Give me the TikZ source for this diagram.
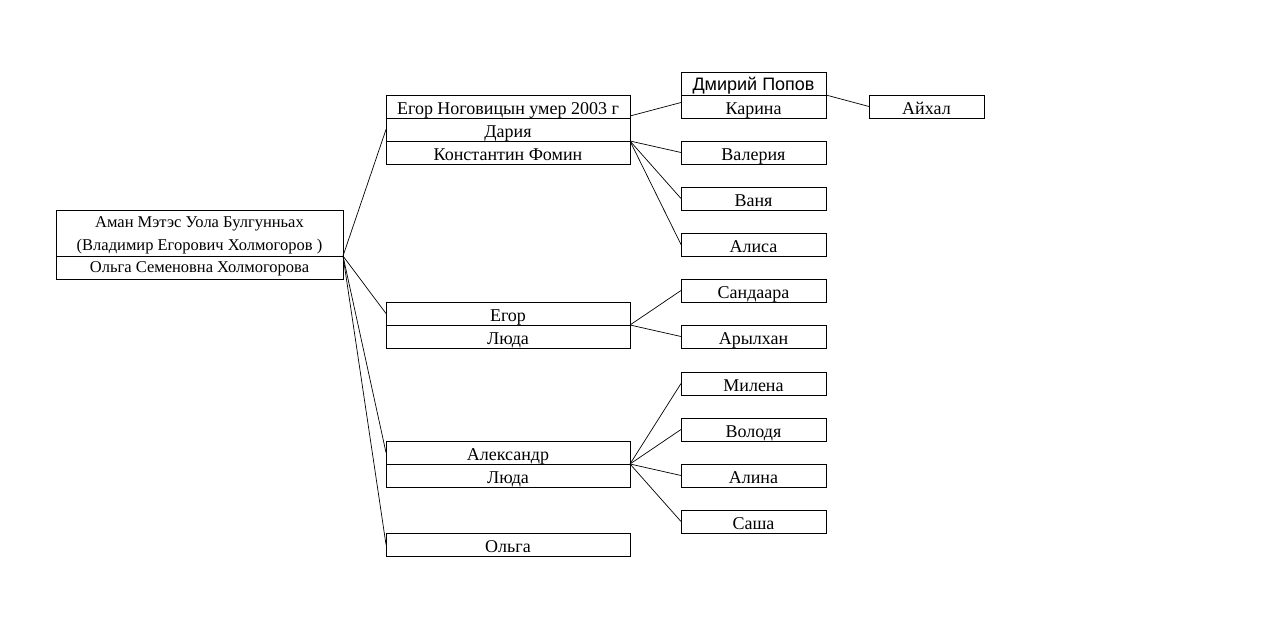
\documentclass[tikz,border=0pt]{standalone}
\usepackage{fontspec}
\setmainfont{Liberation Serif}
\newfontfamily\sansfnt{Liberation Sans}
\usepackage{tikz}
\usetikzlibrary{positioning}

\begin{document}
\begin{tikzpicture}[x=1pt,y=-1pt,
    box/.style={draw, line width=0.8pt, inner sep=0pt, outer sep=0pt, minimum height=23pt,
                text height=18pt, text depth=3pt, font=\fontsize{18}{20}\selectfont},
    wide/.style={box, minimum width=244pt},
    kid/.style={box, minimum width=145pt},
    link/.style={line width=0.7pt}]
    \useasboundingbox (0,0) rectangle (1261,621);

    %ROOT
    \node[draw, line width=0.8pt, inner sep=0pt, outer sep=0pt, minimum width=287pt, minimum height=46pt,
          text height=38pt, text depth=4pt, align=center, font=\fontsize{16.5}{23}\selectfont, anchor=north west]
          (root) at (56,210) {Аман Мэтэс Уола Булгунньах\\(Владимир Егорович Холмогоров )};
    \node[box, minimum width=287pt, text height=13pt, text depth=4pt, font=\fontsize{16.5}{18}\selectfont,
          below=0pt of root] (olgaS) {Ольга Семеновна Холмогорова};
    \coordinate (rj) at (root.south east);

    %CHILDREN
    \node[wide, anchor=north west] (egorN) at (386,95) {Егор Ноговицын умер 2003 г};
    \node[wide, below=0pt of egorN] (daria) {Дария};
    \node[wide, below=0pt of daria] (konst) {Константин Фомин};

    \node[wide, anchor=north west] (egor) at (386,302) {Егор};
    \node[wide, below=0pt of egor] (luda) {Люда};

    \node[wide, anchor=north west] (alex) at (386,441) {Александр};
    \node[wide, below=0pt of alex] (luda2) {Люда};

    \node[wide, anchor=north west] (olga) at (386,533) {Ольга};

    %GRANDCHILDREN
    \node[kid, anchor=north west, text height=17pt, text depth=4pt,
          font=\sansfnt\fontsize{18}{20}\selectfont] (popov) at (681,72) {Дмирий Попов};
    \node[kid, below=0pt of popov] (karina) {Карина};
    \node[kid, anchor=north west] (valeria) at (681,141) {Валерия};
    \node[kid, anchor=north west] (vanya) at (681,187) {Ваня};
    \node[kid, anchor=north west] (alisa) at (681,233) {Алиса};
    \node[kid, anchor=north west] (sandaara) at (681,279) {Сандаара};
    \node[kid, anchor=north west] (arylhan) at (681,325) {Арылхан};
    \node[kid, anchor=north west] (milena) at (681,372) {Милена};
    \node[kid, anchor=north west] (volodya) at (681,418) {Володя};
    \node[kid, anchor=north west] (alina) at (681,464) {Алина};
    \node[kid, anchor=north west] (sasha) at (681,510) {Саша};

    \node[box, minimum width=115pt, anchor=north west] (aihal) at (869,95) {Айхал};

    %LINES
    \draw[link] (rj) -- (daria.west);
    \draw[link] (rj) -- (egor.west);
    \draw[link] (rj) -- (alex.west);
    \draw[link] (rj) -- (olga.west);

    \draw[link] ([yshift=2pt]egorN.south east) -- ([yshift=4pt]karina.west);
    \draw[link] (konst.north east) -- (valeria.west);
    \draw[link] (konst.north east) -- (vanya.west);
    \draw[link] (konst.north east) -- (alisa.west);

    \draw[link] (egor.south east) -- (sandaara.west);
    \draw[link] (egor.south east) -- (arylhan.west);

    \draw[link] (alex.south east) -- (milena.west);
    \draw[link] (alex.south east) -- (volodya.west);
    \draw[link] (alex.south east) -- (alina.west);
    \draw[link] (alex.south east) -- (sasha.west);

    \draw[link] (popov.south east) -- (aihal.west);
\end{tikzpicture}
\end{document}
